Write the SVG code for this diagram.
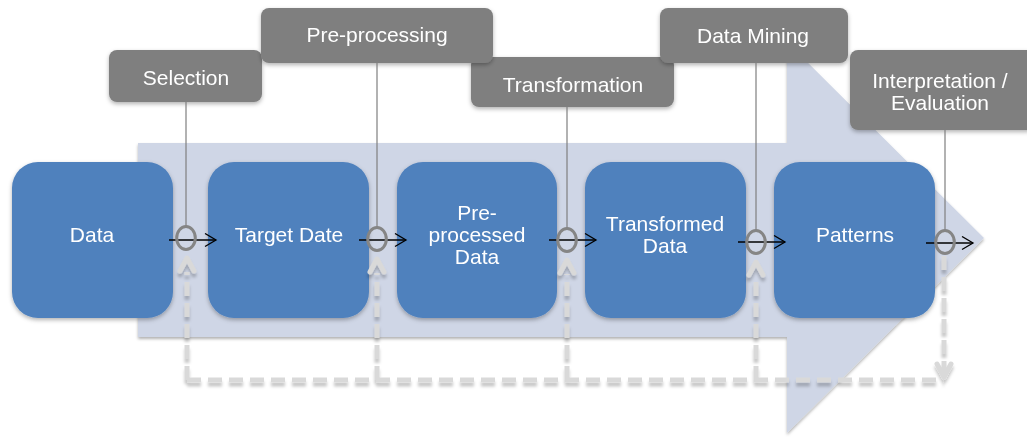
<svg xmlns="http://www.w3.org/2000/svg" width="1027" height="438" viewBox="0 0 1027 438">
  <defs>
    <style>
      .stage { fill: #4f81bd; }
      .step { fill: #7f7f7f; }
      .lbl { font-family: "Liberation Sans", Arial, sans-serif; font-size: 21px; fill: #ffffff; text-anchor: middle; }
      .flow { stroke: #000000; stroke-width: 1.3; fill: none; marker-end: url(#open); }
      .tap { stroke: #7f7f7f; stroke-width: 1.2; fill: none; }
      .ring { stroke: #858585; stroke-width: 3; fill: none; }
      .back { stroke: #d9d9d9; stroke-width: 5; fill: none; stroke-dasharray: 14 7; }
      .head { stroke: #d9d9d9; stroke-width: 5; fill: none; stroke-linecap: round; stroke-linejoin: round; }
    </style>
    <marker id="open" markerUnits="userSpaceOnUse" markerWidth="14" markerHeight="16" refX="12" refY="7" orient="auto">
      <path d="M1,0.5 L12,7 L1,13.5" fill="none" stroke="#000000" stroke-width="1.3"/>
    </marker>
    <filter id="sh" x="-10%" y="-10%" width="120%" height="130%">
      <feDropShadow dx="0" dy="2" stdDeviation="2" flood-color="#000000" flood-opacity="0.3"/>
    </filter>
    <filter id="shBig" x="-5%" y="-5%" width="110%" height="115%">
      <feDropShadow dx="0" dy="2" stdDeviation="1.5" flood-color="#000000" flood-opacity="0.3"/>
    </filter>
    <filter id="shDash" x="-5%" y="-10%" width="110%" height="130%">
      <feDropShadow dx="0" dy="4" stdDeviation="1.5" flood-color="#000000" flood-opacity="0.22"/>
    </filter>
  </defs>

  <!-- large process arrow behind everything -->
  <polygon id="process-arrow" points="138,143 787,143 787,42 984,238 787,433 787,337 138,337" fill="#cfd6e6" filter="url(#shBig)"/>

  <!-- step labels -->
  <g id="selection" filter="url(#sh)">
    <rect class="step" x="109" y="50" width="153" height="52" rx="8"/>
    <text class="lbl" x="186" y="85">Selection</text>
  </g>
  <g id="transformation" filter="url(#sh)">
    <rect class="step" x="471" y="57" width="203" height="50" rx="8"/>
    <text class="lbl" x="573" y="92">Transformation</text>
  </g>
  <g id="pre-processing" filter="url(#sh)">
    <rect class="step" x="261" y="8" width="232" height="55" rx="8"/>
    <text class="lbl" x="377" y="42">Pre-processing</text>
  </g>
  <g id="data-mining" filter="url(#sh)">
    <rect class="step" x="660" y="8" width="188" height="55" rx="8"/>
    <text class="lbl" x="753" y="43">Data Mining</text>
  </g>
  <g id="interpretation" filter="url(#sh)">
    <rect class="step" x="850" y="50" width="185" height="80" rx="8"/>
    <text class="lbl" x="940" y="88">Interpretation /</text>
    <text class="lbl" x="940" y="110">Evaluation</text>
  </g>

  <!-- data stages -->
  <g id="data" filter="url(#sh)">
    <rect class="stage" x="12" y="162" width="161" height="156" rx="26"/>
    <text class="lbl" x="92" y="242">Data</text>
  </g>
  <g id="target-date" filter="url(#sh)">
    <rect class="stage" x="208" y="162" width="161" height="156" rx="26"/>
    <text class="lbl" x="289" y="242">Target Date</text>
  </g>
  <g id="preprocessed-data" filter="url(#sh)">
    <rect class="stage" x="397" y="162" width="160" height="156" rx="26"/>
    <text class="lbl" x="477" y="220">Pre-</text>
    <text class="lbl" x="477" y="242">processed</text>
    <text class="lbl" x="477" y="264">Data</text>
  </g>
  <g id="transformed-data" filter="url(#sh)">
    <rect class="stage" x="585" y="162" width="161" height="156" rx="26"/>
    <text class="lbl" x="665" y="231">Transformed</text>
    <text class="lbl" x="665" y="253">Data</text>
  </g>
  <g id="patterns" filter="url(#sh)">
    <rect class="stage" x="774" y="162" width="161" height="156" rx="26"/>
    <text class="lbl" x="855" y="242">Patterns</text>
  </g>

  <g id="connectors">
    <!-- feedback loop -->
    <g filter="url(#shDash)">
      <path class="back" d="M187,380 H944"/>
      <path class="back" d="M187,380 V272"/>
      <path class="back" d="M377,380 V273"/>
      <path class="back" d="M567,380 V274"/>
      <path class="back" d="M756,380 V275"/>
      <path class="back" d="M944,256 V374"/>
      <polyline class="head" points="180,271 187,258 194,271"/>
      <polyline class="head" points="370,272 377,259 384,272"/>
      <polyline class="head" points="560,273 567,260 574,273"/>
      <polyline class="head" points="749,275 756,262 763,275"/>
      <polyline class="head" points="937,364 944,377 951,364"/>
    </g>

    <!-- step taps -->
    <path class="tap" d="M186,102 V227"/>
    <path class="tap" d="M377,63 V228"/>
    <path class="tap" d="M567,107 V229"/>
    <path class="tap" d="M756,63 V230"/>
    <path class="tap" d="M945,130 V231"/>

    <!-- forward flow -->
    <path class="flow" d="M169,240 H216"/>
    <path class="flow" d="M359,240 H406"/>
    <path class="flow" d="M549,240 H596"/>
    <path class="flow" d="M738,242 H785"/>
    <path class="flow" d="M926,243 H973"/>

    <ellipse class="ring" cx="186" cy="238" rx="9.3" ry="11.5"/>
    <ellipse class="ring" cx="377" cy="239" rx="9.3" ry="11.5"/>
    <ellipse class="ring" cx="567" cy="240" rx="9.3" ry="11.5"/>
    <ellipse class="ring" cx="756" cy="242" rx="9.3" ry="11.5"/>
    <ellipse class="ring" cx="945" cy="242" rx="9.3" ry="11.5"/>
  </g>
</svg>
